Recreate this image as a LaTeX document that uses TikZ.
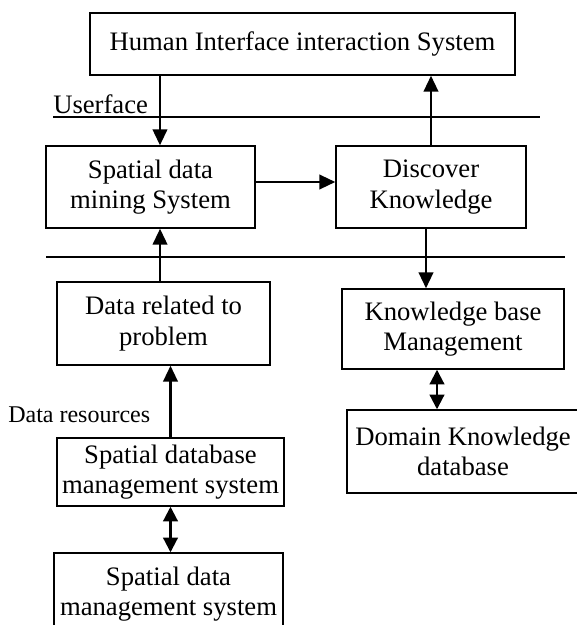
\documentclass[tikz,border=0pt]{standalone}
\usepackage{fontspec}
\setmainfont{Liberation Serif}
\usetikzlibrary{arrows.meta}

\begin{document}
\begin{tikzpicture}[x=0.75pt,y=-0.75pt,
    box/.style={draw,line width=1.1pt,align=center,inner sep=0pt,
      font=\fontsize{20}{23}\selectfont},
    arr/.style={line width=1.6pt,-{Triangle[length=12pt,width=11pt]}},
    dblarr/.style={line width=1.6pt,{Triangle[length=11pt,width=11pt]}-{Triangle[length=11pt,width=11pt]}},
    sep/.style={line width=1.1pt}]
    \useasboundingbox (0,0) rectangle (577,625);
    \clip (0,0) rectangle (577,625);

    \node[box,minimum width=318.75pt,minimum height=46.5pt] (human) at (302.5,44) {Human Interface interaction System};
    \node[box,minimum width=156.75pt,minimum height=61.5pt] (mining) at (150.5,187) {Spatial data\\mining System};
    \node[box,minimum width=142.5pt,minimum height=61.5pt] (discover) at (431,187) {Discover\\Knowledge};
    \node[box,minimum width=159.75pt,minimum height=62.25pt] (related) at (163.5,323.5) {Data related to\\problem};
    \node[box,minimum width=166.5pt,minimum height=60pt] (kbm) at (453,329) {Knowledge base\\Management};
    \node[box,minimum width=174pt,minimum height=62.25pt] (domain) at (463,451.5) {Domain Knowledge\\database};
    \node[box,minimum width=170.25pt,minimum height=51pt] (sdbms) at (170.5,472) {Spatial database\\management system};
    \node[box,minimum width=171.75pt,minimum height=61.5pt] (sdms) at (168.5,594) {Spatial data\\management system};

    \coordinate (ul) at (53,117);
    \coordinate (ur) at (540,117);
    \coordinate (ll) at (46,257);
    \coordinate (lr) at (565,257);
    \draw[sep] (ul) -- (ur);
    \draw[sep] (ll) -- (lr);
    \node[anchor=base west,inner sep=0pt,font=\fontsize{20}{23}\selectfont] (userface) at (53,113) {Userface};
    \node[anchor=base west,inner sep=0pt,font=\fontsize{18}{21}\selectfont] (resources) at (8,422) {Data resources};

    \draw[arr] ([xshift=7.1pt]mining.north |- human.south) -- ([xshift=7.1pt]mining.north);
    \draw[arr] (discover.north) -- (discover.north |- human.south);
    \draw[arr] ([yshift=3.75pt]mining.east) -- ([yshift=3.75pt]mining.east -| discover.west);
    \draw[arr] ([xshift=-3.75pt]discover.south) -- ([xshift=-3.75pt]discover.south |- kbm.north);
    \draw[arr] ([xshift=-2.6pt]related.north) -- ([xshift=-2.6pt]related.north |- mining.south);
    \draw[arr] (sdbms.north) -- (sdbms.north |- related.south);
    \draw[dblarr] (sdbms.south) -- (sdbms.south |- sdms.north);
    \draw[dblarr] ([xshift=-12pt]kbm.south) -- ([xshift=-12pt]kbm.south |- domain.north);
\end{tikzpicture}
\end{document}
